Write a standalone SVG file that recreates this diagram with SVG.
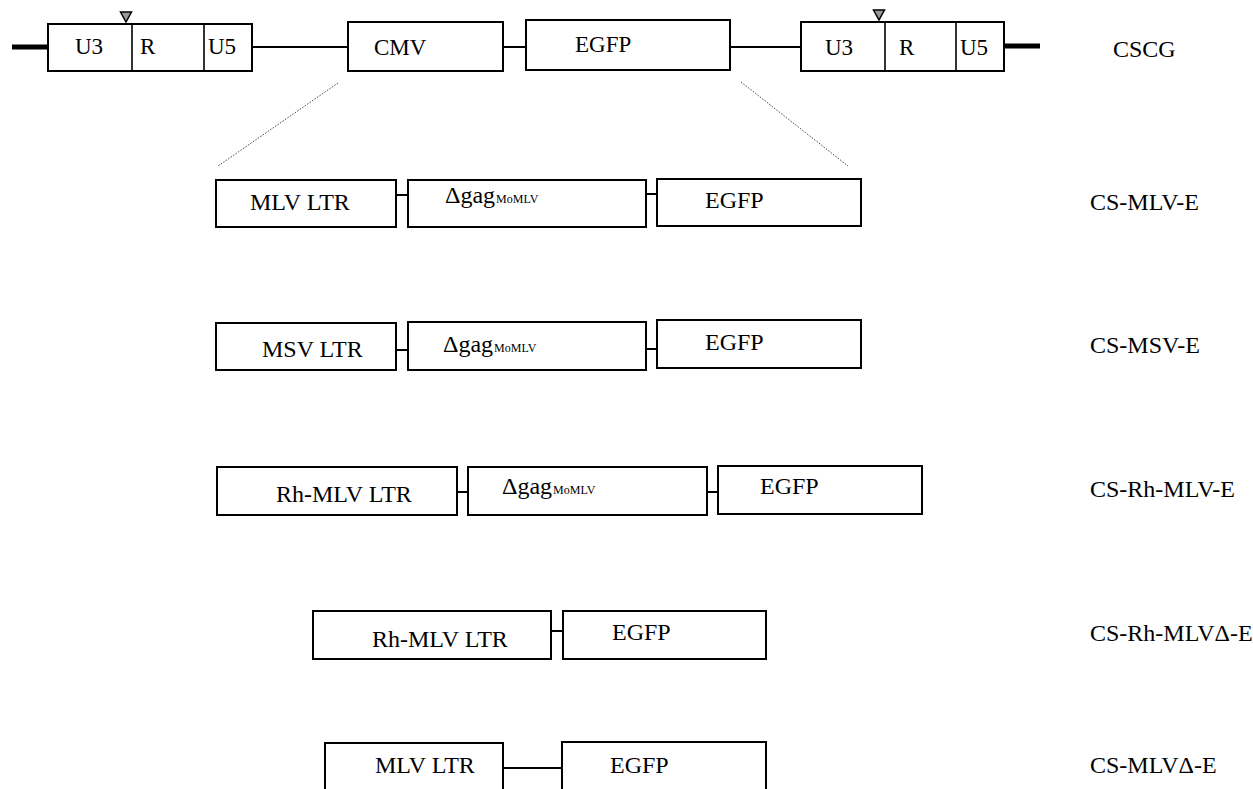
<svg xmlns="http://www.w3.org/2000/svg" width="1253" height="789" viewBox="0 0 1253 789">
<style>
.b{fill:#fff;stroke:#000;stroke-width:2}
.d{stroke:#000;stroke-width:1.6}
.t{font-family:'Liberation Serif','DejaVu Serif','Times New Roman',serif;font-size:24px;fill:#000}
.h{font-size:23px}
.s{font-family:'Liberation Serif','DejaVu Serif','Times New Roman',serif;font-size:12px;fill:#000}
.c{stroke:#000;stroke-width:2;fill:none}
.k{stroke:#000;stroke-width:5;fill:none}
.dot{stroke:#444;stroke-width:1;stroke-dasharray:1.5 1.5;fill:none}
.tri{fill:#999;stroke:#000;stroke-width:1.5}
</style>
<rect width="1253" height="789" fill="#fff"/>
<g id="connectors">
<line class="k" x1="12" y1="47" x2="48" y2="47"/>
<line class="c" x1="252" y1="47" x2="348" y2="47"/>
<line class="c" x1="503" y1="47" x2="526" y2="47"/>
<line class="c" x1="730" y1="47" x2="801" y2="47"/>
<line class="k" x1="1004" y1="46" x2="1040" y2="46"/>
<line class="dot" x1="338" y1="83" x2="218" y2="166"/>
<line class="dot" x1="741" y1="82" x2="848" y2="166"/>
<line class="c" x1="396" y1="195" x2="408" y2="195"/>
<line class="c" x1="646" y1="194" x2="657" y2="194"/>
<line class="c" x1="396" y1="350" x2="408" y2="350"/>
<line class="c" x1="646" y1="349" x2="657" y2="349"/>
<line class="c" x1="457" y1="492" x2="468" y2="492"/>
<line class="c" x1="707" y1="492" x2="718" y2="492"/>
<line class="c" x1="551" y1="631" x2="563" y2="631"/>
<line class="c" x1="503" y1="768" x2="562" y2="768"/>
</g>
<g id="cscg-ltr5">
<rect class="b" x="48" y="24" width="204" height="47"/>
<line class="d" x1="132" y1="24" x2="132" y2="71"/>
<line class="d" x1="204" y1="24" x2="204" y2="71"/>
<polygon class="tri" points="120.5,12 131.5,12 126,22"/>
<text class="t h" x="75" y="54">U3</text>
<text class="t h" x="140" y="54">R</text>
<text class="t h" x="208" y="54">U5</text>
</g>
<g id="cscg-cmv">
<rect class="b" x="348" y="22" width="155" height="49"/>
<text class="t h" x="374" y="55">CMV</text>
</g>
<g id="cscg-egfp">
<rect class="b" x="526" y="20" width="204" height="50"/>
<text class="t h" x="575" y="52">EGFP</text>
</g>
<g id="cscg-ltr3">
<rect class="b" x="801" y="22" width="203" height="49"/>
<line class="d" x1="885" y1="22" x2="885" y2="71"/>
<line class="d" x1="956" y1="22" x2="956" y2="71"/>
<polygon class="tri" points="873.5,10 884.5,10 879,20"/>
<text class="t h" x="825" y="55">U3</text>
<text class="t h" x="899" y="55">R</text>
<text class="t h" x="960" y="55">U5</text>
</g>
<g id="label-cscg"><text class="t" x="1113" y="57">CSCG</text></g>

<g id="r1-ltr">
<rect class="b" x="216" y="180" width="180" height="47"/>
<text class="t" x="250" y="210">MLV LTR</text>
</g>
<g id="r1-gag">
<rect class="b" x="408" y="180" width="238" height="47"/>
<text class="t" x="445" y="203">Δgag<tspan class="s" dx="1">MoMLV</tspan></text>
</g>
<g id="r1-egfp">
<rect class="b" x="657" y="179" width="204" height="47"/>
<text class="t" x="705" y="208">EGFP</text>
</g>
<g id="label-r1"><text class="t" x="1090" y="210">CS-MLV-E</text></g>

<g id="r2-ltr">
<rect class="b" x="216" y="323" width="180" height="47"/>
<text class="t" x="262" y="357">MSV LTR</text>
</g>
<g id="r2-gag">
<rect class="b" x="408" y="322" width="238" height="48"/>
<text class="t" x="443" y="352">Δgag<tspan class="s" dx="1">MoMLV</tspan></text>
</g>
<g id="r2-egfp">
<rect class="b" x="657" y="320" width="204" height="48"/>
<text class="t" x="705" y="350">EGFP</text>
</g>
<g id="label-r2"><text class="t" x="1090" y="353">CS-MSV-E</text></g>

<g id="r3-ltr">
<rect class="b" x="217" y="467" width="240" height="48"/>
<text class="t" x="276" y="502">Rh-MLV LTR</text>
</g>
<g id="r3-gag">
<rect class="b" x="468" y="467" width="239" height="48"/>
<text class="t" x="502" y="494">Δgag<tspan class="s" dx="1">MoMLV</tspan></text>
</g>
<g id="r3-egfp">
<rect class="b" x="718" y="466" width="204" height="48"/>
<text class="t" x="760" y="494">EGFP</text>
</g>
<g id="label-r3"><text class="t" x="1090" y="497">CS-Rh-MLV-E</text></g>

<g id="r4-ltr">
<rect class="b" x="313" y="611" width="238" height="48"/>
<text class="t" x="372" y="647">Rh-MLV LTR</text>
</g>
<g id="r4-egfp">
<rect class="b" x="563" y="611" width="203" height="48"/>
<text class="t" x="612" y="640">EGFP</text>
</g>
<g id="label-r4"><text class="t" x="1090" y="641">CS-Rh-MLVΔ-E</text></g>

<g id="r5-ltr">
<rect class="b" x="325" y="743" width="178" height="60"/>
<text class="t" x="375" y="773">MLV LTR</text>
</g>
<g id="r5-egfp">
<rect class="b" x="562" y="742" width="204" height="60"/>
<text class="t" x="610" y="773">EGFP</text>
</g>
<g id="label-r5"><text class="t" x="1090" y="773">CS-MLVΔ-E</text></g>
</svg>
